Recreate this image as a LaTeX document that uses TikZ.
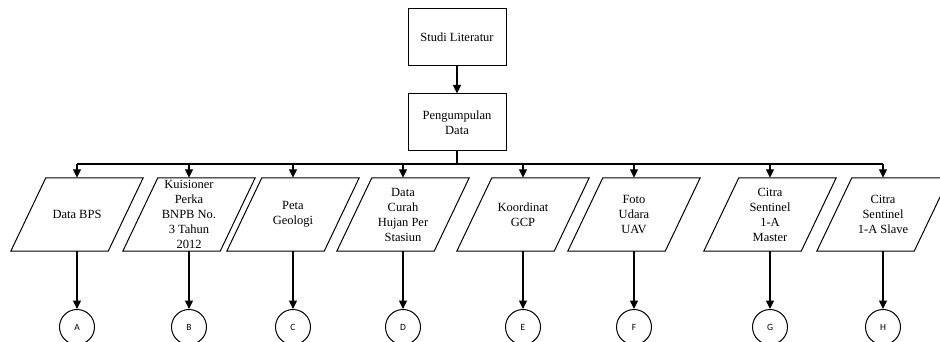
\documentclass[tikz,border=0pt]{standalone}
\usepackage{fontspec}
\setmainfont{Liberation Serif}
\newfontfamily\circfont{Carlito}
\usetikzlibrary{arrows.meta,calc}
\begin{document}
\begin{tikzpicture}[x=1pt,y=-1pt,
  txt/.style={align=center, font=\fontsize{12.5}{15}\selectfont, inner sep=0pt},
  box/.style={txt, draw, line width=1pt, minimum width=98pt, minimum height=57pt},
  para/.style={txt, minimum width=132pt, minimum height=73pt},
  conn/.style={draw, circle, minimum size=35pt, inner sep=0pt, line width=1pt, font=\circfont\fontsize{9.5}{10}\selectfont},
  arr/.style={line width=1.3pt, -{Triangle[length=8.5pt,width=8pt]}},
  ln/.style={line width=1.3pt},
  outline/.style={line width=1pt, line join=miter}]
\useasboundingbox (0,0) rectangle (940,342);

\node[box] (sl) at (457,37.5) {Studi Literatur};
\node[box] (pd) at (457,122.5) {Pengumpulan\\Data};

\node[para] (p1) at (77,214.5) {Data BPS};
\node[para] (p2) at (189,214.5) {Kuisioner\\Perka\\BNPB No.\\3 Tahun\\2012};
\node[para] (p3) at (293,214.5) {Peta\\Geologi};
\node[para] (p4) at (403,214.5) {Data\\Curah\\Hujan Per\\Stasiun};
\node[para] (p5) at (523,214.5) {Koordinat\\GCP};
\node[para] (p6) at (634,214.5) {Foto\\Udara\\UAV};
\node[para] (p7) at (770,214.5) {Citra\\Sentinel\\1-A\\Master};
\node[para] (p8) at (883,214.5) {Citra\\Sentinel\\1-A Slave};

\foreach \n in {p1,p2,p3,p4,p5,p6,p7,p8}
  \draw[outline] ($(\n.north west)+(35,0)$) -- (\n.north east) -- ($(\n.south east)+(-35,0)$) -- (\n.south west) -- cycle;

\node[conn] (cA) at (77,327) {A};
\node[conn] (cB) at (189,327) {B};
\node[conn] (cC) at (293,327) {C};
\node[conn] (cD) at (403,327) {D};
\node[conn] (cE) at (523,327) {E};
\node[conn] (cF) at (634,327) {F};
\node[conn] (cG) at (770,327) {G};
\node[conn] (cH) at (883,327) {H};

\coordinate (bus) at (457,164);
\draw[arr] (sl) -- (pd);
\draw[ln] (pd.south) -- (bus);
\draw[ln] (p1.north |- bus) -- (p8.north |- bus);
\foreach \n/\c in {p1/cA,p2/cB,p3/cC,p4/cD,p5/cE,p6/cF,p7/cG,p8/cH}{
  \draw[arr] (\n.north |- bus) -- (\n.north);
  \draw[arr] (\n.south) -- (\c.north);
}
\end{tikzpicture}
\end{document}
